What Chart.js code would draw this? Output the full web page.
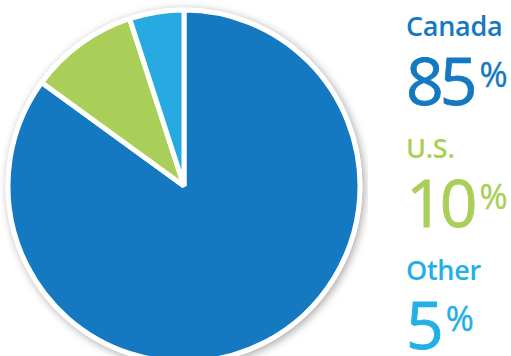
<!DOCTYPE html>
<html>
<head>
<meta charset="utf-8">
<script src="https://cdn.jsdelivr.net/npm/chart.js@4.4.1/dist/chart.umd.min.js"></script>
<style>
  html, body { margin: 0; padding: 0; background: #fff; overflow: hidden; }
  body { width: 511px; height: 356px; position: relative; font-family: "Open Sans", sans-serif; }
  #pieBox { position: absolute; left: 0; top: 0; width: 368px; height: 372px; }
  .item { position: absolute; left: 406px; }
  .name { font-size: 27px; font-weight: 600; line-height: 28px; height: 28px; white-space: nowrap; letter-spacing: -0.3px; }
  .value { font-size: 66px; font-weight: 400; line-height: 64px; height: 64px; margin-top: 2px; white-space: nowrap; letter-spacing: -4px; -webkit-text-stroke: 0.8px currentColor; }
  .value span { font-size: 34px; vertical-align: 18px; letter-spacing: 0; margin-left: 6px; -webkit-text-stroke: 0.4px currentColor; }
</style>
</head>
<body>
<div id="pieBox"><canvas id="pie"></canvas></div>
<div id="labels"></div>
<script>
// data
const regions = ["Canada", "U.S.", "Other"];
const shares = [85, 10, 5];
const colours = ["#1479c0", "#a9cf59", "#27a9e1"];
const textColours = ["#1479c0", "#a9cf59", "#22b0e6"];

// white disc with a soft shadow under the pie
const shadowDisc = {
  id: "shadowDisc",
  beforeDatasetsDraw(chart) {
    const arc = chart.getDatasetMeta(0).data[0];
    if (!arc) return;
    const c = chart.ctx;
    c.save();
    c.shadowColor = "rgba(0,0,0,0.35)";
    c.shadowBlur = 8;
    c.shadowOffsetX = 2;
    c.shadowOffsetY = 2;
    c.fillStyle = "#fff";
    c.beginPath();
    c.arc(arc.x, arc.y, arc.outerRadius + 2.5, 0, Math.PI * 2);
    c.fill();
    c.restore();
  },
};

const ctx = document.getElementById("pie");
const pieChart = new Chart(ctx, {
  type: "pie",
  data: {
    labels: regions,
    datasets: [
      {
        data: shares,
        backgroundColor: colours,
        borderColor: "#ffffff",
        borderWidth: 5,
        hoverOffset: 0,
      },
    ],
  },
  options: {
    responsive: true,
    maintainAspectRatio: false,
    animation: false,
    radius: 176,
    layout: { padding: 0 },
    plugins: {
      legend: { display: false },
      tooltip: { enabled: false },
    },
  },
  plugins: [shadowDisc],
});

// labels on the right
const box = document.getElementById("labels");
regions.forEach((name, i) => {
  const item = document.createElement("div");
  item.className = "item";
  item.style.top = 12 + i * 122 + "px";
  item.style.color = textColours[i];
  item.innerHTML =
    '<div class="name">' + name + "</div>" +
    '<div class="value">' + shares[i] + "<span>%</span></div>";
  box.appendChild(item);
});
</script>
</body>
</html>
